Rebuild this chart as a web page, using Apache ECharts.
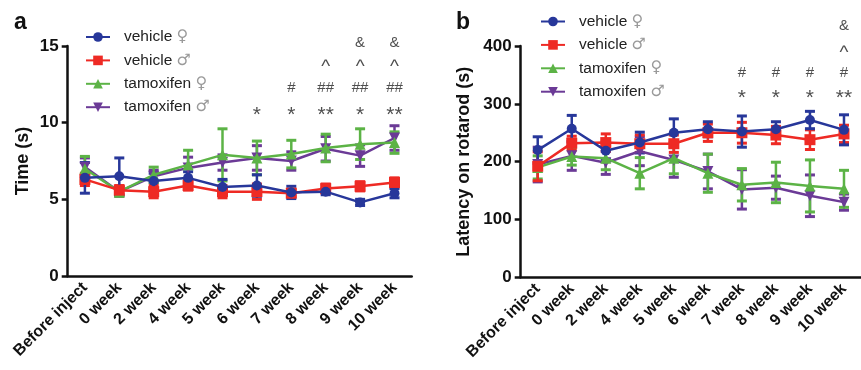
<!DOCTYPE html>
<html>
<head>
<meta charset="utf-8">
<script src="https://cdn.jsdelivr.net/npm/echarts@6/dist/echarts.min.js"></script>
<style>
  html, body { margin: 0; padding: 0; background: #fff; }
  #chart { width: 861px; height: 370px; }
</style>
</head>
<body>
<div id="chart"></div>
<script>
// categories on both panels
const weeks = ['Before inject', '0 week', '2 week', '4 week', '5 week', '6 week', '7 week', '8 week', '9 week', '10 week']
const groups = ['vehicle ♀', 'vehicle ♂', 'tamoxifen ♀', 'tamoxifen ♂']

// panel a - time (s)
const timeVehF = [6.4, 6.5, 6.2, 6.4, 5.8, 5.9, 5.45, 5.5, 4.8, 5.4]
const timeVehFErr = [1.0, 1.2, 0.5, 0.4, 0.5, 0.7, 0.4, 0.2, 0.2, 0.3]
const timeVehM = [6.3, 5.6, 5.5, 5.9, 5.5, 5.5, 5.4, 5.7, 5.85, 6.1]
const timeVehMErr = [0.4, 0.3, 0.4, 0.3, 0.4, 0.5, 0.2, 0.3, 0.3, 0.3]
const timeTamF = [7.0, 5.5, 6.6, 7.25, 7.9, 7.7, 7.95, 8.35, 8.6, 8.7]
const timeTamFErr = [0.8, 0.3, 0.5, 0.95, 1.7, 1.1, 0.9, 0.9, 1.0, 0.7]
const timeTamM = [7.1, 5.5, 6.5, 7.05, 7.4, 7.7, 7.5, 8.3, 7.85, 9.0]
const timeTamMErr = [0.6, 0.3, 0.4, 0.7, 0.5, 0.8, 0.6, 0.8, 0.7, 0.8]
const timeTicks = [0, 5, 10, 15]

// panel a - significance marks
const timeStars = ['', '', '', '', '', '*', '*', '**', '*', '**']
const timeHashes = ['', '', '', '', '', '', '#', '##', '##', '##']
const timeCarets = ['', '', '', '', '', '', '', '^', '^', '^']
const timeAmps = ['', '', '', '', '', '', '', '', '&', '&']

// panel b - latency on rotarod (s)
const rotVehF = [220, 257, 219, 233, 250, 256, 252, 256, 272, 255]
const rotVehFErr = [23, 23, 15, 18, 24, 13, 27, 13, 15, 26]
const rotVehM = [192, 232, 233, 231, 231, 250, 250, 246, 238, 248]
const rotVehMErr = [25, 12, 15, 15, 15, 15, 18, 15, 17, 15]
const rotTamF = [190, 209, 206, 180, 206, 180, 160, 164, 158, 153]
const rotTamFErr = [20, 15, 20, 27, 27, 33, 28, 35, 45, 32]
const rotTamM = [195, 210, 198, 218, 203, 183, 152, 155, 141, 130]
const rotTamMErr = [30, 25, 20, 25, 30, 30, 34, 20, 36, 14]
const rotTicks = [0, 100, 200, 300, 400]

// panel b - significance marks
const rotStars = ['', '', '', '', '', '', '*', '*', '*', '**']
const rotHashes = ['', '', '', '', '', '', '#', '#', '#', '#']
const rotCarets = ['', '', '', '', '', '', '', '', '', '^']
const rotAmps = ['', '', '', '', '', '', '', '', '', '&']

const colors = ['#27379a', '#ee2a24', '#5cb346', '#6b3a96']
const symbols = ['circle', 'rect', 'triangle', 'triangle']
const rotations = [0, 0, 0, 180]
const font = 'Liberation Sans, Arial, sans-serif'

function lineSeries(idx, grid, values) {
    return {
        type: 'line',
        name: groups[idx],
        xAxisIndex: grid,
        yAxisIndex: grid,
        data: values,
        symbol: symbols[idx],
        symbolRotate: rotations[idx],
        symbolSize: idx === 0 ? 10 : 11,
        showAllSymbol: true,
        color: colors[idx],
        lineStyle: { width: 2.5, color: colors[idx] },
        itemStyle: { color: colors[idx] },
        z: 3 + (3 - idx) * 0.1 + (idx === 0 ? 1 : 0)
    }
}

// error bars, no name so the legend picks the line series
function errorSeries(idx, grid, values, errs) {
    return {
        type: 'custom',
        xAxisIndex: grid,
        yAxisIndex: grid,
        data: values.map((v, i) => [i, v, errs[i]]),
        encode: { x: 0, y: 1 },
        z: 2 + (idx === 0 ? 1 : 0),
        silent: true,
        renderItem: (params, api) => {
            const x = api.value(0), v = api.value(1), e = api.value(2)
            const top = api.coord([x, v + e])
            const bot = api.coord([x, v - e])
            const half = 5
            const style = { stroke: colors[idx], lineWidth: 2.5 }
            const cap = { stroke: colors[idx], lineWidth: 3 }
            return {
                type: 'group',
                children: [
                    { type: 'line', shape: { x1: top[0], y1: top[1], x2: bot[0], y2: bot[1] }, style },
                    { type: 'line', shape: { x1: top[0] - half, y1: top[1], x2: top[0] + half, y2: top[1] }, style: cap },
                    { type: 'line', shape: { x1: bot[0] - half, y1: bot[1], x2: bot[0] + half, y2: bot[1] }, style: cap }
                ]
            }
        }
    }
}

// size and nudge keep the glyphs centred on their row like in the figure
function markSeries(grid, marks, level, size, nudge) {
    return {
        type: 'scatter',
        xAxisIndex: grid,
        yAxisIndex: grid,
        clip: false,
        silent: true,
        symbolSize: 0,
        data: marks.map((m, i) => [i, level, m]).filter(d => d[2] !== ''),
        label: {
            show: true,
            position: 'inside',
            formatter: p => p.value[2],
            color: '#222',
            fontSize: size || 15,
            offset: [0, nudge || 0],
            fontFamily: font
        },
        z: 5
    }
}

function xAxis(grid) {
    return {
        type: 'category',
        gridIndex: grid,
        data: weeks,
        boundaryGap: true,
        axisLine: { lineStyle: { color: '#111', width: 2.5 } },
        axisTick: { alignWithLabel: true, length: 6, lineStyle: { width: 2.5, color: '#111' } },
        axisLabel: { rotate: 45, margin: 9, fontSize: 16, fontWeight: 'bold', color: '#111', fontFamily: font, interval: 0 },
        splitLine: { show: false }
    }
}

function yAxis(grid, ticks, name, gap) {
    return {
        type: 'value',
        gridIndex: grid,
        min: ticks[0],
        max: ticks[ticks.length - 1],
        interval: ticks[1] - ticks[0],
        name: name,
        nameLocation: 'middle',
        nameGap: gap,
        nameTextStyle: { fontSize: 18, fontWeight: 'bold', color: '#111', fontFamily: font },
        axisLine: { show: true, lineStyle: { color: '#111', width: 2.5 } },
        axisTick: { show: true, length: 6, lineStyle: { width: 2.5, color: '#111' } },
        axisLabel: { margin: 9, fontSize: 17, fontWeight: 'bold', color: '#111', fontFamily: font },
        splitLine: { show: false }
    }
}

function legend(left, top) {
    return {
        orient: 'vertical',
        left: left,
        top: top,
        data: groups,
        itemWidth: 24,
        itemHeight: 12,
        itemGap: 5.4,
        selectedMode: false,
        formatter: n => n.replace(/ (.)$/, ' {g|$1}'),
        textStyle: {
            fontSize: 15.5,
            lineHeight: 18,
            color: '#222',
            fontFamily: font,
            padding: [0, 0, 0, 9],
            rich: { g: { color: '#9a9a9a', fontSize: 16, fontFamily: 'DejaVu Sans' } }
        }
    }
}

const chart = echarts.init(document.getElementById('chart'))
const option = {
    animation: false,
    backgroundColor: '#fff',
    title: [
        { text: 'a', left: 9, top: 6, textStyle: { fontSize: 23, fontWeight: 'bold', color: '#111', fontFamily: font } },
        { text: 'b', left: 451, top: 6, textStyle: { fontSize: 23, fontWeight: 'bold', color: '#111', fontFamily: font } }
    ],
    legend: [legend(80, 23), legend(535, 7.5)],
    grid: [
        { left: 67.7, right: 449.3, top: 46, bottom: 94 },
        { left: 520.7, right: -3.7, top: 46, bottom: 92.7 }
    ],
    xAxis: [xAxis(0), xAxis(1)],
    yAxis: [yAxis(0, timeTicks, 'Time (s)', 36), yAxis(1, rotTicks, 'Latency on rotarod (s)', 48)],
    series: [
        errorSeries(3, 0, timeTamM, timeTamMErr),
        errorSeries(2, 0, timeTamF, timeTamFErr),
        errorSeries(1, 0, timeVehM, timeVehMErr),
        errorSeries(0, 0, timeVehF, timeVehFErr),
        lineSeries(3, 0, timeTamM),
        lineSeries(2, 0, timeTamF),
        lineSeries(1, 0, timeVehM),
        lineSeries(0, 0, timeVehF),
        markSeries(0, timeStars, 10.8, 21, 5),
        markSeries(0, timeHashes, 12.3),
        markSeries(0, timeCarets, 13.9, 19, 4),
        markSeries(0, timeAmps, 15.2),

        errorSeries(3, 1, rotTamM, rotTamMErr),
        errorSeries(2, 1, rotTamF, rotTamFErr),
        errorSeries(1, 1, rotVehM, rotVehMErr),
        errorSeries(0, 1, rotVehF, rotVehFErr),
        lineSeries(3, 1, rotTamM),
        lineSeries(2, 1, rotTamF),
        lineSeries(1, 1, rotVehM),
        lineSeries(0, 1, rotVehF),
        markSeries(1, rotStars, 318, 21, 5),
        markSeries(1, rotHashes, 354),
        markSeries(1, rotCarets, 395, 19, 4),
        markSeries(1, rotAmps, 435)
    ]
}
chart.setOption(option)
</script>
</body>
</html>
